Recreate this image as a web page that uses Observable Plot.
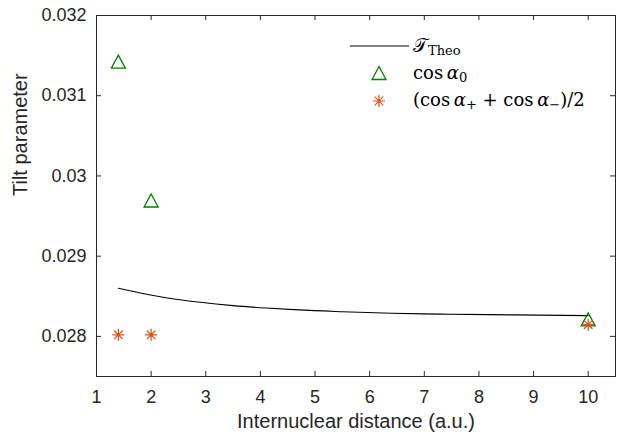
<!DOCTYPE html>
<html>
<head>
<meta charset="utf-8">
<script src="https://cdn.jsdelivr.net/npm/d3@7"></script>
<script src="https://cdn.jsdelivr.net/npm/@observablehq/plot@0.6"></script>
<style>
  html, body { margin: 0; padding: 0; background: #fff; }
  svg { display: block; }
</style>
</head>
<body>
<div id="chart"></div>
<script>
// ---- data ----
const theoX = [1.4, 1.8, 2.3, 2.9, 3.5, 4.1, 4.7, 5.5, 6.4, 7.3, 8.2, 9.1, 10];
const theoY = [0.02860, 0.028541, 0.028479, 0.028425, 0.028384, 0.028354, 0.028330, 0.028308, 0.028288, 0.028278, 0.028271, 0.028265, 0.028259];
const cos0X = [1.4, 2, 10];
const cos0Y = [0.031425, 0.029694, 0.028212];
const cosPMX = [1.4, 2, 10];
const cosPMY = [0.02802, 0.02802, 0.028146];
const xTicks = [1, 2, 3, 4, 5, 6, 7, 8, 9, 10];
const yTicks = [0.028, 0.029, 0.030, 0.031, 0.032];
const yTickLabels = ["0.028", "0.029", "0.03", "0.031", "0.032"];
const xLabel = "Internuclear distance (a.u.)";
const yLabel = "Tilt parameter";

const theo = theoX.map((x, i) => ({x, y: theoY[i]}));
const cos0 = cos0X.map((x, i) => ({x, y: cos0Y[i]}));
const cosPM = cosPMX.map((x, i) => ({x, y: cosPMY[i]}));

const green = "#008000";
const orange = "#D95319";
const axisColor = "#262626";

const triSymbol = {
  draw(ctx) {
    ctx.moveTo(0, -6.5);
    ctx.lineTo(7, 6.5);
    ctx.lineTo(-7, 6.5);
    ctx.closePath();
  }
};
const starSymbol = {
  draw(ctx) {
    const r = 6, d = 4.3;
    ctx.moveTo(-r, 0); ctx.lineTo(r, 0);
    ctx.moveTo(0, -r); ctx.lineTo(0, r);
    ctx.moveTo(-d, -d); ctx.lineTo(d, d);
    ctx.moveTo(-d, d); ctx.lineTo(d, -d);
  }
};

const W = 621, H = 439;
const mL = 96, mR = 6, mT = 15, mB = 63;
const plotH = H - mT - mB;
const plotW = W - mL - mR;
const tickLen = 5;

const chart = Plot.plot({
  width: W,
  height: H,
  marginLeft: mL,
  marginRight: mR,
  marginTop: mT,
  marginBottom: mB,
  style: {fontFamily: "'Liberation Sans', Arial, sans-serif", color: axisColor, background: "#fff"},
  x: {domain: [1, 10.5]},
  y: {domain: [0.0275, 0.032]},
  marks: [
    // inward ticks
    Plot.ruleX(xTicks, {x: d => d, insetTop: plotH - tickLen, stroke: axisColor, strokeWidth: 1}),
    Plot.ruleX(xTicks, {x: d => d, insetBottom: plotH - tickLen, stroke: axisColor, strokeWidth: 1}),
    Plot.ruleY(yTicks, {y: d => d, insetRight: plotW - tickLen, stroke: axisColor, strokeWidth: 1}),
    Plot.ruleY(yTicks, {y: d => d, insetLeft: plotW - tickLen, stroke: axisColor, strokeWidth: 1}),
    Plot.axisX({ticks: xTicks, tickSize: 0, tickPadding: 14, fontSize: 18, label: null}),
    Plot.axisY({ticks: yTicks, tickSize: 0, tickPadding: 10, fontSize: 18, label: null,
      tickFormat: d => yTickLabels[yTicks.indexOf(d)]}),
    Plot.text([xLabel], {text: d => d, frameAnchor: "bottom", dy: 37, fontSize: 20, fill: axisColor, lineAnchor: "top"}),
    Plot.text([yLabel], {text: d => d, frameAnchor: "left", dx: -76, rotate: -90, fontSize: 20, fill: axisColor}),
    Plot.line(theo, {x: "x", y: "y", stroke: "#000", strokeWidth: 1.1, curve: "monotone-x"}),
    Plot.dot(cos0, {x: "x", y: "y", symbol: triSymbol, stroke: green, fill: "none", strokeWidth: 1.3}),
    Plot.dot(cosPM, {x: "x", y: "y", symbol: starSymbol, stroke: orange, fill: "none", strokeWidth: 1.2}),
    Plot.frame({stroke: axisColor, strokeWidth: 1})
  ]
});

document.getElementById("chart").appendChild(chart);

// ---- legend ----
const svg = d3.select(chart);
const lg = svg.append("g")
  .attr("text-anchor", "start")
  .attr("font-family", "'DejaVu Serif', 'Liberation Serif', serif")
  .attr("font-size", 18)
  .attr("fill", "#000");
const textX = 413;
const subSize = 13;
// row 1
lg.append("line").attr("x1", 350).attr("x2", 409).attr("y1", 46).attr("y2", 46)
  .attr("stroke", "#000").attr("stroke-width", 1.1);
const t1 = lg.append("text").attr("x", textX).attr("y", 52);
t1.append("tspan").attr("font-size", 19).text("\u{1D4AF}");
t1.append("tspan").attr("font-size", subSize).attr("dy", 3).text("Theo");
// row 2
const tri = d3.path(); triSymbol.draw(tri);
lg.append("path").attr("d", tri.toString()).attr("transform", "translate(379,73)")
  .attr("fill", "none").attr("stroke", green).attr("stroke-width", 1.3);
const t2 = lg.append("text").attr("x", textX).attr("y", 79);
t2.append("tspan").text("cos\u2009");
t2.append("tspan").attr("font-style", "italic").text("α");
t2.append("tspan").attr("font-size", subSize).attr("dy", 3).text("0");
// row 3
const st = d3.path(); starSymbol.draw(st);
lg.append("path").attr("d", st.toString()).attr("transform", "translate(379,101)")
  .attr("fill", "none").attr("stroke", orange).attr("stroke-width", 1.2);
const t3 = lg.append("text").attr("x", textX).attr("y", 106);
t3.append("tspan").text("(cos\u2009");
t3.append("tspan").attr("font-style", "italic").text("α");
t3.append("tspan").attr("font-size", subSize).attr("dy", 3).text("+");
t3.append("tspan").attr("dy", -3).text(" + cos\u2009");
t3.append("tspan").attr("font-style", "italic").text("α");
t3.append("tspan").attr("font-size", subSize).attr("dy", 3).text("\u2212");
t3.append("tspan").attr("dy", -3).text(")/2");
</script>
</body>
</html>
